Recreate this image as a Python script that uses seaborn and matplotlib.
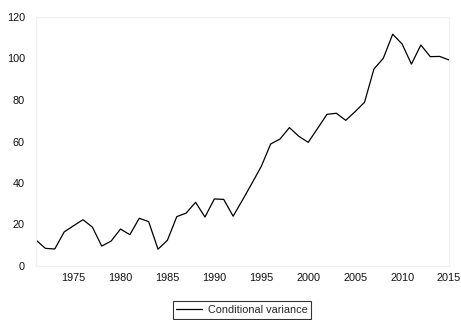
import matplotlib
matplotlib.use("Agg")
import matplotlib.pyplot as plt
from matplotlib.ticker import MultipleLocator
import seaborn as sns
import pandas as pd

years = list(range(1971, 2016))
cond_variance = [
    12.5, 8.5, 8.2, 16.4, 19.4, 22.3, 18.8, 9.6, 12.0, 17.8,
    15.1, 23.0, 21.4, 8.1, 12.4, 23.8, 25.5, 30.7, 23.6, 32.3,
    32.1, 24.0, 31.8, 39.8, 48.0, 58.8, 61.2, 66.7, 62.5, 59.6,
    66.3, 73.1, 73.6, 70.2, 74.4, 78.9, 94.9, 100.1, 111.7, 107.0,
    97.3, 106.5, 100.9, 101.0, 99.3,
]
series_label = "Conditional variance"
y_ticks = [0, 20, 40, 60, 80, 100, 120]
x_ticks = [1975, 1980, 1985, 1990, 1995, 2000, 2005, 2010, 2015]

df = pd.DataFrame({"year": years, "value": cond_variance})

sns.set_style("white")
plt.rcParams["font.family"] = ["Liberation Sans", "DejaVu Sans"]

fig = plt.figure(figsize=(4.61, 3.20), dpi=100)
ax = fig.add_axes([36 / 461, 1 - 266 / 320, (449 - 36) / 461, (266 - 17) / 320])

sns.lineplot(data=df, x="year", y="value", color="black", linewidth=0.9,
             label=series_label, ax=ax, legend=False)

ax.set_xlim(1971, 2015)
ax.set_ylim(0, 120)
ax.set_xticks(x_ticks)
ax.set_yticks(y_ticks)
ax.xaxis.set_minor_locator(MultipleLocator(1))
ax.set_xlabel("")
ax.set_ylabel("")

for s in ax.spines.values():
    s.set_color("#efefef")
    s.set_linewidth(0.8)

ax.tick_params(axis="both", which="both", colors="#efefef", labelcolor="#111111",
               labelsize=7.8)
ax.tick_params(axis="x", which="major", direction="in", length=3, pad=5)
ax.tick_params(axis="x", which="minor", direction="in", length=2)
ax.tick_params(axis="y", which="major", direction="in", length=0, pad=8)

handles, labels = ax.get_legend_handles_labels()
leg = fig.legend(handles, labels, loc="lower center", bbox_to_anchor=(0.525, 0.0),
                 frameon=True, fancybox=False, fontsize=7.8, handlelength=2.4,
                 handletextpad=0.5, borderpad=0.35, borderaxespad=0.1)
leg.get_frame().set_edgecolor("black")
leg.get_frame().set_linewidth(0.8)

fig.savefig("out.png", dpi=100)
